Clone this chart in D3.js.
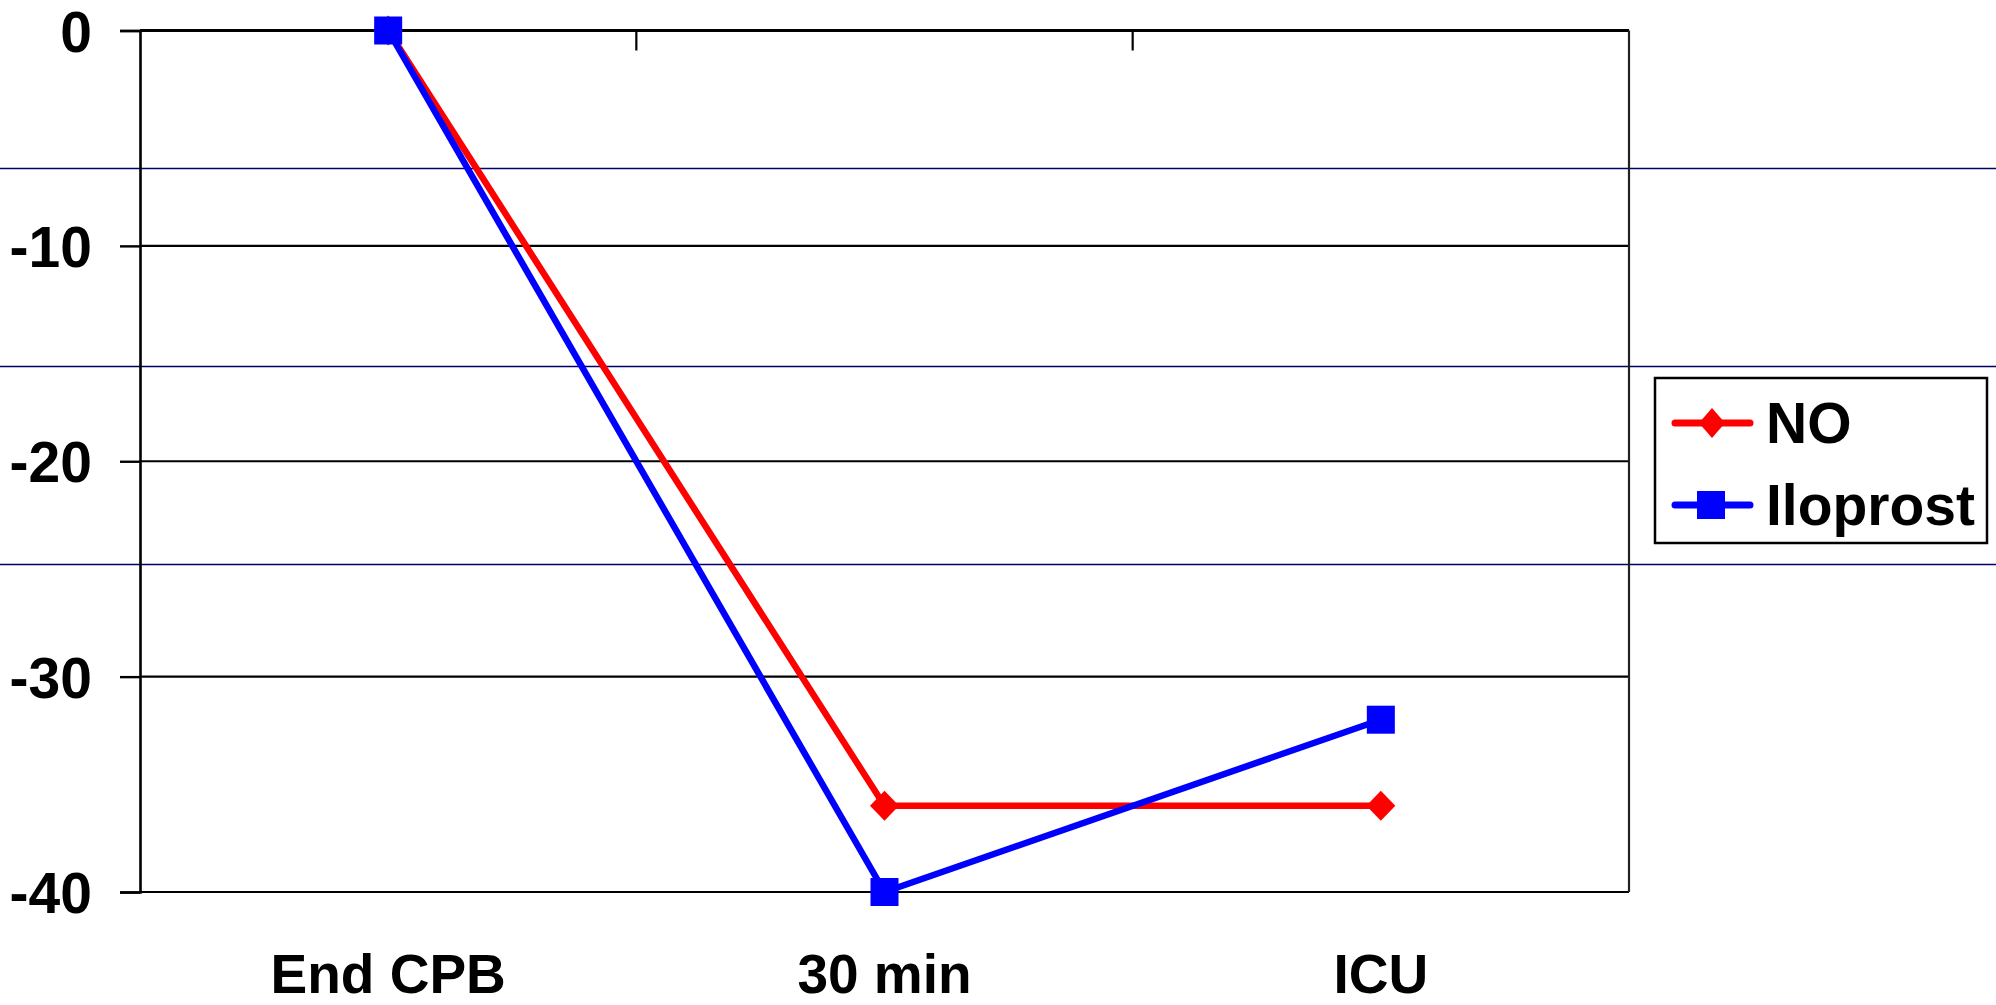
<!DOCTYPE html>
<html>
<head>
<meta charset="utf-8">
<script src="https://cdn.jsdelivr.net/npm/d3@7"></script>
<style>
  html, body { margin: 0; padding: 0; background: #fff; }
  svg { display: block; }
  text { font-family: "Liberation Sans", Arial, sans-serif; font-weight: bold; fill: #000; }
</style>
</head>
<body>
<svg id="chart" width="1996" height="1005"></svg>
<script>
// Time points and change from baseline per group
const categories = ["End CPB", "30 min", "ICU"];
const seriesNames = ["NO", "Iloprost"];
const noValues = [0, -36, -36];
const iloprostValues = [0, -40, -32];
const yTicks = [0, -10, -20, -30, -40];
const yDomain = [-40, 0];

const W = 1996, H = 1005;
const plot = { left: 140, right: 1629, top: 30.5, bottom: 892 };

const svg = d3.select("#chart");

const x = d3.scaleBand().domain(categories).range([plot.left, plot.right]).padding(0);
const y = d3.scaleLinear().domain(yDomain).range([plot.bottom, plot.top]);
const cx = d => x(d) + x.bandwidth() / 2;

// thin navy rules running across the whole page
[168.5, 366.5, 564.5].forEach(yy => {
  svg.append("line")
    .attr("x1", 0).attr("x2", W).attr("y1", yy).attr("y2", yy)
    .attr("stroke", "#000066").attr("stroke-width", 1.3);
});

// horizontal gridlines
svg.append("g")
  .selectAll("line")
  .data(yTicks)
  .join("line")
  .attr("x1", plot.left).attr("x2", plot.right)
  .attr("y1", d => y(d)).attr("y2", d => y(d))
  .attr("stroke", "#000")
  .attr("stroke-width", d => d === 0 ? 3 : 2.2);

// right border of the plot area
svg.append("line")
  .attr("x1", plot.right).attr("x2", plot.right)
  .attr("y1", y(0)).attr("y2", y(-40))
  .attr("stroke", "#222").attr("stroke-width", 2.2);

// value axis (plain hyphen for negatives)
const yAxis = d3.axisLeft(y)
  .tickValues(yTicks)
  .tickSize(20)
  .tickPadding(28)
  .tickFormat(d => String(d));
const gy = svg.append("g")
  .attr("transform", `translate(${plot.left},0)`)
  .call(yAxis);
gy.select(".domain").attr("stroke", "#000").attr("stroke-width", 2.6);
gy.selectAll(".tick line").attr("stroke", "#000").attr("stroke-width", 2.4);
gy.selectAll(".tick text")
  .attr("font-size", 57)
  .attr("dy", "0.36em")
  .style("font-family", "'Liberation Sans', Arial, sans-serif")
  .style("font-weight", "bold")
  .attr("fill", "#000");

// category axis sits on the zero line; tick marks at band edges
const edges = categories.map(c => x(c)).concat([plot.right]);
svg.append("g")
  .selectAll("line")
  .data(edges.slice(1, -1))
  .join("line")
  .attr("x1", d => d).attr("x2", d => d)
  .attr("y1", y(0)).attr("y2", y(0) + 20)
  .attr("stroke", "#000").attr("stroke-width", 2.2);

// category labels below the plot
svg.append("g")
  .selectAll("text")
  .data(categories)
  .join("text")
  .attr("x", d => cx(d))
  .attr("y", 993)
  .attr("text-anchor", "middle")
  .attr("font-size", 55)
  .text(d => d);

// marker shapes
const diamond = (px, py, hw, hh) =>
  `M${px},${py - hh}L${px + hw},${py}L${px},${py + hh}L${px - hw},${py}Z`;

const series = [
  { name: seriesNames[0], values: noValues, color: "#ff0000", shape: "diamond" },
  { name: seriesNames[1], values: iloprostValues, color: "#0000ff", shape: "square" }
];

const line = d3.line().x(d => cx(d.c)).y(d => y(d.v));

series.forEach(s => {
  const pts = categories.map((c, i) => ({ c, v: s.values[i] }));
  const g = svg.append("g");
  g.append("path")
    .attr("d", line(pts))
    .attr("fill", "none")
    .attr("stroke", s.color)
    .attr("stroke-width", 6.5)
    .attr("stroke-linejoin", "round");
  if (s.shape === "diamond") {
    g.selectAll("path.m").data(pts).join("path")
      .attr("class", "m")
      .attr("d", d => diamond(cx(d.c), y(d.v), 14.5, 15))
      .attr("fill", s.color);
  } else {
    g.selectAll("rect").data(pts).join("rect")
      .attr("x", d => cx(d.c) - 14).attr("y", d => y(d.v) - 14)
      .attr("width", 28).attr("height", 28)
      .attr("fill", s.color);
  }
});

// legend
const lg = svg.append("g");
lg.append("rect")
  .attr("x", 1655).attr("y", 378).attr("width", 332).attr("height", 165)
  .attr("fill", "#fff").attr("stroke", "#000").attr("stroke-width", 2.5);
const rowY = [423, 505];
series.forEach((s, i) => {
  const yy = rowY[i];
  lg.append("line")
    .attr("x1", 1675).attr("x2", 1750).attr("y1", yy).attr("y2", yy)
    .attr("stroke", s.color).attr("stroke-width", 7).attr("stroke-linecap", "round");
  if (s.shape === "diamond") {
    lg.append("path").attr("d", diamond(1712, yy, 13, 15)).attr("fill", s.color);
  } else {
    lg.append("rect").attr("x", 1697).attr("y", yy - 14).attr("width", 28).attr("height", 28).attr("fill", s.color);
  }
  lg.append("text")
    .attr("x", 1766).attr("y", yy + 20)
    .attr("font-size", 57)
    .text(s.name);
});
</script>
</body>
</html>
